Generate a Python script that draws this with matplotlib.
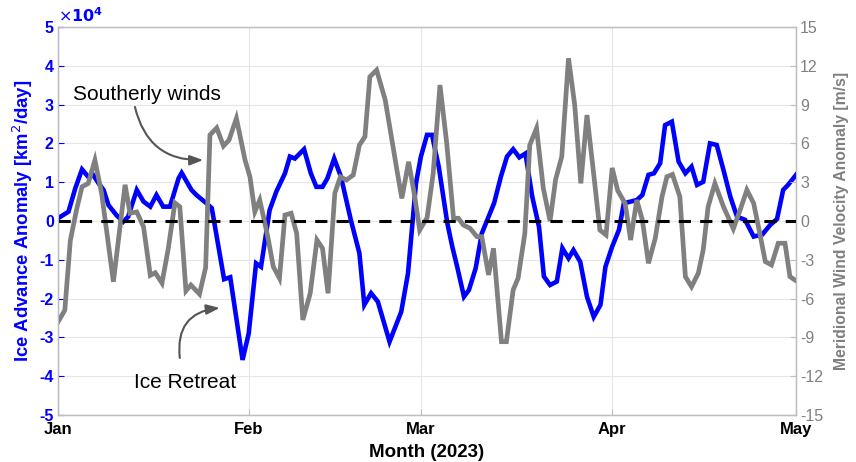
import matplotlib
matplotlib.use('Agg')
import matplotlib.pyplot as plt
import matplotlib.dates as mdates
import numpy as np
import pandas as pd

plt.rcParams['font.family'] = ['Liberation Sans', 'DejaVu Sans']
plt.rcParams['axes.unicode_minus'] = False

# days since 1 Jan 2023 and ice advance anomaly (x10^4 km^2/day)
ice_days = [0.0, 1.7, 2.8, 3.9, 4.9, 5.7, 6.6, 7.4, 8.2, 9.5, 10.6, 11.4, 12.8, 13.9,
            15.0, 16.0, 17.1, 18.2, 19.6, 20.1, 21.7, 22.5, 24.1, 25.0, 27.0, 28.0,
            30.0, 31.0, 32.2, 33.0, 34.4, 35.5, 36.9, 37.7, 38.5, 40.0, 41.1, 42.0,
            43.0, 43.8, 44.9, 46.0, 47.6, 49.0, 49.8, 50.9, 52.0, 53.9, 55.8, 56.9,
            58.2, 59.0, 60.0, 60.8, 61.9, 63.3, 64.1, 64.9, 66.0, 66.8, 67.9, 68.9,
            70.9, 72.0, 73.0, 74.0, 75.0, 76.0, 77.1, 78.2, 79.0, 80.0, 81.1, 82.0,
            83.0, 83.8, 84.9, 86.0, 87.1, 88.2, 89.0, 90.1, 91.2, 92.0, 93.1, 94.1,
            95.0, 96.0, 96.9, 97.9, 98.7, 99.8, 100.9, 102.0, 103.0, 103.9, 104.9,
            106.0, 107.1, 108.2, 109.3, 110.4, 111.7, 113.1, 114.5, 115.8, 116.9,
            117.9, 118.7, 120.0]
ice_anom = [0.07, 0.24, 0.84, 1.33, 1.14, 1.19, 0.97, 0.80, 0.41, 0.15, -0.02, 0.11, 0.80, 0.50,
            0.37, 0.67, 0.37, 0.37, 1.10, 1.24, 0.80, 0.67, 0.46, 0.33, -1.50, -1.45,
            -3.58, -2.90, -1.09, -1.18, 0.28, 0.76, 1.23, 1.66, 1.61, 1.85, 1.23, 0.88,
            0.88, 1.10, 1.61, 1.14, 0.03, -0.83, -2.16, -1.86, -2.08, -3.11, -2.34, -1.35,
            0.97, 1.66, 2.22, 2.22, 1.40, -0.06, -0.66, -1.18, -1.95, -1.78, -1.22, -0.32,
            0.46, 1.14, 1.66, 1.85, 1.64, 1.74, 0.63, -0.15, -1.43, -1.65, -1.56, -0.70,
            -0.96, -0.75, -1.05, -1.95, -2.47, -2.16, -1.18, -0.66, -0.23, 0.46, 0.50, 0.54,
            0.67, 1.19, 1.23, 1.49, 2.47, 2.56, 1.53, 1.23, 1.40, 0.93, 1.01,
            2.00, 1.96, 1.31, 0.63, 0.11, 0.03, -0.40, -0.35, -0.10, 0.05,
            0.80, 0.93, 1.19]

# meridional wind velocity anomaly (m/s)
wind_days = [0.0, 1.1, 2.0, 3.0, 3.9, 4.9, 6.0, 7.1, 9.0, 10.9, 11.7, 12.8, 13.9, 15.0,
             15.8, 16.9, 17.9, 19.0, 19.8, 20.8, 21.6, 23.0, 24.0, 24.7, 25.8, 26.9,
             27.8, 29.0, 30.4, 31.2, 32.0, 32.8, 34.1, 35.0, 36.0, 36.9, 37.9, 38.8,
             39.8, 41.0, 42.1, 43.0, 43.9, 45.0, 45.9, 46.9, 48.0, 49.0, 49.9, 50.7,
             51.8, 53.2, 55.1, 55.9, 57.0, 58.0, 58.8, 60.0, 61.0, 62.1, 63.2, 64.3,
             65.1, 65.9, 67.0, 68.1, 68.9, 70.0, 70.8, 72.1, 72.9, 74.0, 74.8, 75.9,
             76.7, 77.8, 78.9, 80.0, 80.9, 81.9, 83.0, 84.0, 85.0, 86.0, 87.1, 88.1,
             89.1, 90.1, 91.0, 92.2, 93.1, 94.1, 95.0, 96.0, 97.1, 98.2, 99.0, 99.9,
             101.1, 102.0, 103.0, 104.1, 104.9, 105.7, 106.8, 108.2, 109.8, 110.9,
             112.0, 113.1, 114.1, 115.0, 116.0, 117.1, 118.2, 119.0, 119.8]
wind_anom = [-7.8, -6.9, -1.5, 0.85, 2.65, 2.9, 4.7, 2.1, -4.7, 2.8, 0.6, 0.7, -0.45, -4.2,
             -4.0, -4.8, -2.2, 1.4, 1.1, -5.4, -4.95, -5.65, -3.6, 6.65, 7.2, 5.8,
             6.26, 7.94, 4.72, 3.42, 0.72, 1.62, -1.21, -3.53, -4.43, 0.46, 0.6, -0.95,
             -7.65, -5.59, -1.47, -2.11, -5.59, 2.14, 3.42, 3.17, 3.56, 5.87, 6.52, 11.15,
             11.67, 9.35, 3.94, 1.75, 4.58, 1.88, -0.7, 0.25, 3.69, 10.51, 6.0, 0.21,
             0.21, -0.31, -0.57, -1.21, -1.21, -4.17, -2.11, -9.33, -9.33, -5.33, -4.43, -0.95,
             5.87, 7.17, 2.53, 0.0, 3.2, 4.97, 12.58, 9.0, 2.91, 8.19, 3.6, -0.7,
             -1.08, 4.1, 2.35, 1.37, -1.47, 1.62, 0.08, -3.27, -1.34, 1.88, 3.42, 3.6,
             1.88, -4.3, -5.08, -4.04, -2.24, 1.1, 2.91, 1.1, -0.6, 0.85,
             2.4, 1.37, -0.95, -3.14, -3.4, -1.72, -1.72, -4.3, -4.56]

start = pd.Timestamp('2023-01-01')
ice_dates = start + pd.to_timedelta(ice_days, unit='D')
wind_dates = start + pd.to_timedelta(wind_days, unit='D')
month_ticks = pd.to_datetime(['2023-01-01', '2023-02-01', '2023-03-01', '2023-04-01', '2023-05-01'])

fig = plt.figure(figsize=(8.56, 4.62), dpi=100)
ax = fig.add_axes([0.0678, 0.1017, 0.8622, 0.8399])
ax2 = ax.twinx()

ax.plot(ice_dates, ice_anom, color='#0000ff', lw=3.3, solid_joinstyle='miter')
ax2.plot(wind_dates, wind_anom, color='#808080', lw=3.4, solid_joinstyle='miter')
ax2.axhline(0, color='black', lw=2.2, ls=(0, (4, 3)))

ax.set_xlim(month_ticks[0], month_ticks[-1])
ax.set_ylim(-5, 5)
ax2.set_ylim(-15, 15)
ax.set_yticks(np.arange(-5, 6, 1))
ax2.set_yticks(np.arange(-15, 16, 3))
ax.set_xticks(month_ticks)
ax.xaxis.set_major_formatter(mdates.DateFormatter('%b'))

ax.grid(True, color='#e6e6e6', lw=0.8)
for sp in ax2.spines.values():
    sp.set_color('#bfbfbf')
ax2.spines['left'].set_color('#b8b8d0')

ax.tick_params(axis='y', direction='in', length=4, colors='#0000ff', labelsize=11.5, pad=3)
ax.tick_params(axis='x', direction='in', length=4, color='#bfbfbf', labelsize=12, pad=5)
ax2.tick_params(axis='y', direction='in', length=4, color='#bfbfbf', labelcolor='#808080',
                labelsize=11.5, pad=3)
for lab in ax.get_yticklabels():
    lab.set_fontweight('bold')
for lab in ax.get_xticklabels():
    lab.set_fontweight('bold')
    lab.set_family(['Liberation Sans Narrow', 'Liberation Sans'])

ax.set_xlabel('Month (2023)', fontsize=13.5, fontweight='bold',
              family=['Liberation Sans Narrow', 'Liberation Sans'], labelpad=5)
ax.set_ylabel('Ice Advance Anomaly [km$^2$/day]', color='#0000ff', fontsize=13.3,
              fontweight='bold', labelpad=3)
ax2.set_ylabel('Meridional Wind Velocity Anomaly [m/s]', color='#808080', fontsize=11.3,
               fontweight='bold', labelpad=8)
ax.text(0.0, 1.005, r'$\times\mathbf{10^{4}}$', transform=ax.transAxes, color='#0000ff',
        fontsize=11.5, ha='left', va='bottom')

# callouts
ax.text(start + pd.Timedelta(days=14.5), 3.25, 'Southerly winds', fontsize=15,
        ha='center', va='center')
ax.annotate('', xy=(start + pd.Timedelta(days=23.6), 1.57),
            xytext=(start + pd.Timedelta(days=12.5), 2.94),
            arrowprops=dict(arrowstyle='-|>,head_length=0.8,head_width=0.3', color='#555555',
                            lw=1.5, connectionstyle='arc3,rad=0.4', shrinkA=0, shrinkB=0))
ax.text(start + pd.Timedelta(days=20.6), -4.15, 'Ice Retreat', fontsize=15,
        ha='center', va='center')
ax.annotate('', xy=(start + pd.Timedelta(days=26.3), -2.24),
            xytext=(start + pd.Timedelta(days=19.8), -3.53),
            arrowprops=dict(arrowstyle='-|>,head_length=0.8,head_width=0.3', color='#555555',
                            lw=1.5, connectionstyle='arc3,rad=-0.5', shrinkA=0, shrinkB=0))

fig.savefig('out.png', dpi=100)
